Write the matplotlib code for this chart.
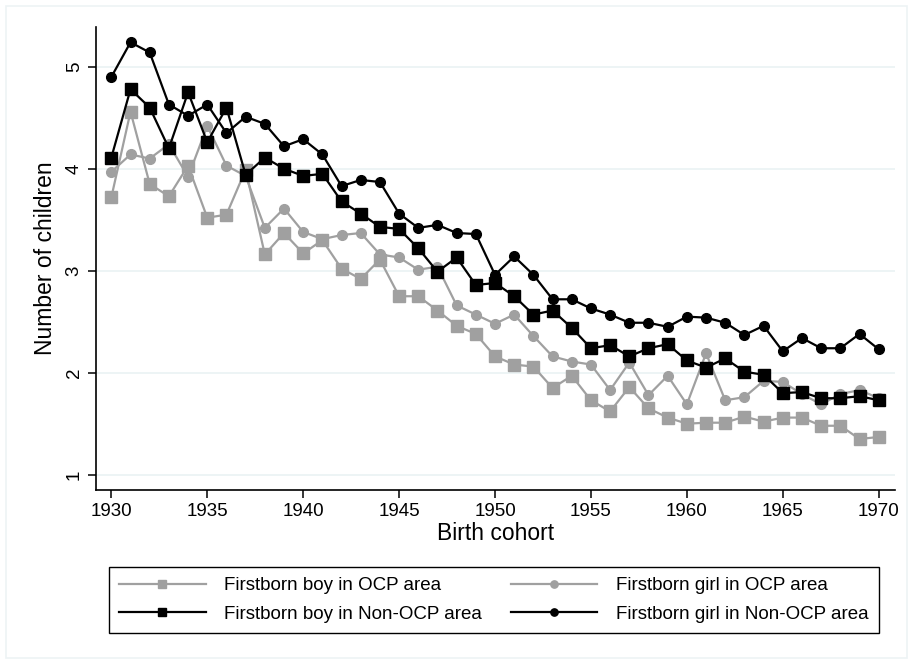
import matplotlib.pyplot as plt
from matplotlib.patches import Rectangle
import numpy as np

plt.rcParams['font.family'] = ['Liberation Sans', 'DejaVu Sans']

# birth cohorts
years = list(range(1930, 1971))

# firstborn boy, OCP area (gray squares)
boy_ocp = [3.72, 4.56, 3.85, 3.73, 4.03, 3.52, 3.55, 3.99, 3.16, 3.37,
           3.17, 3.30, 3.02, 2.92, 3.11, 2.75, 2.75, 2.61, 2.46, 2.38,
           2.16, 2.08, 2.06, 1.85, 1.97, 1.73, 1.62, 1.86, 1.65, 1.56,
           1.50, 1.51, 1.51, 1.57, 1.52, 1.56, 1.56, 1.48, 1.48, 1.35,
           1.37]
# firstborn girl, OCP area (gray circles)
girl_ocp = [3.97, 4.14, 4.10, 4.24, 3.92, 4.42, 4.03, 3.93, 3.42, 3.61,
            3.38, 3.31, 3.35, 3.37, 3.16, 3.13, 3.01, 3.04, 2.66, 2.57,
            2.48, 2.57, 2.36, 2.16, 2.11, 2.08, 1.83, 2.10, 1.78, 1.97,
            1.69, 2.19, 1.73, 1.76, 1.92, 1.91, 1.79, 1.69, 1.79, 1.83,
            1.75]
# firstborn boy, Non-OCP area (black squares)
boy_non = [4.11, 4.78, 4.60, 4.20, 4.75, 4.26, 4.60, 3.94, 4.11, 4.00,
           3.93, 3.95, 3.68, 3.56, 3.43, 3.41, 3.22, 2.99, 3.13, 2.86,
           2.88, 2.75, 2.57, 2.61, 2.44, 2.24, 2.27, 2.16, 2.24, 2.28,
           2.12, 2.05, 2.14, 2.01, 1.98, 1.80, 1.81, 1.75, 1.75, 1.77,
           1.73]
# firstborn girl, Non-OCP area (black circles)
girl_non = [4.90, 5.24, 5.14, 4.63, 4.52, 4.63, 4.35, 4.51, 4.44, 4.22,
            4.29, 4.14, 3.83, 3.89, 3.87, 3.56, 3.42, 3.45, 3.37, 3.36,
            2.96, 3.14, 2.96, 2.72, 2.72, 2.63, 2.57, 2.49, 2.49, 2.45,
            2.55, 2.54, 2.49, 2.37, 2.46, 2.21, 2.34, 2.24, 2.24, 2.38,
            2.23]

gray = '#a0a0a0'
fig = plt.figure(figsize=(9.13, 6.64), dpi=100)
ax = fig.add_axes([96 / 913, 1 - 490 / 664, 799 / 913, 463 / 664])

# faint graph region border
fig.patches.append(Rectangle((6 / 913, 6 / 664), 901 / 913, 652 / 664,
                             transform=fig.transFigure, fill=False,
                             edgecolor='#edf3f5', lw=1.2))

h1, = ax.plot(years, boy_ocp, color=gray, marker='s', ms=8, lw=1.6,
              label='Firstborn boy in OCP area')
h2, = ax.plot(years, girl_ocp, color=gray, marker='o', ms=7, lw=1.6,
              label='Firstborn girl in OCP area')
h3, = ax.plot(years, boy_non, color='black', marker='s', ms=8, lw=1.6,
              label='Firstborn boy in Non-OCP area')
h4, = ax.plot(years, girl_non, color='black', marker='o', ms=7, lw=1.6,
              label='Firstborn girl in Non-OCP area')

ax.set_xlim(1929.2, 1970.85)
ax.set_ylim(0.85, 5.39)
ax.set_xticks(range(1930, 1971, 5))
ax.set_yticks([1, 2, 3, 4, 5])
ax.set_yticklabels(['1', '2', '3', '4', '5'], rotation=90, va='center')
ax.grid(axis='y', color='#eaf2f3', lw=1.2)
ax.set_axisbelow(True)
for s in ['top', 'right']:
    ax.spines[s].set_visible(False)
ax.spines['left'].set_linewidth(1.2)
ax.spines['bottom'].set_linewidth(1.2)
ax.tick_params(labelsize=13.5, length=6, width=1.1)
ax.set_xlabel('Birth cohort', fontsize=16.5, labelpad=1)
ax.set_ylabel('Number of children', fontsize=16.5, labelpad=6)

leg = fig.legend([h1, h3, h2, h4],
                 [h1.get_label(), h3.get_label(), h2.get_label(), h4.get_label()],
                 ncol=2, loc='lower left', mode='expand', borderaxespad=0,
                 bbox_to_anchor=(109 / 913, 1 - 633 / 664, 770 / 913, 70 / 664),
                 fontsize=13.5, handlelength=4.6, fancybox=False,
                 edgecolor='black', framealpha=1, borderpad=0.55,
                 labelspacing=0.6, handletextpad=1.0, columnspacing=2,
                 markerscale=0.75)
leg.get_frame().set_linewidth(1.0)

fig.savefig('out.png', dpi=100)
